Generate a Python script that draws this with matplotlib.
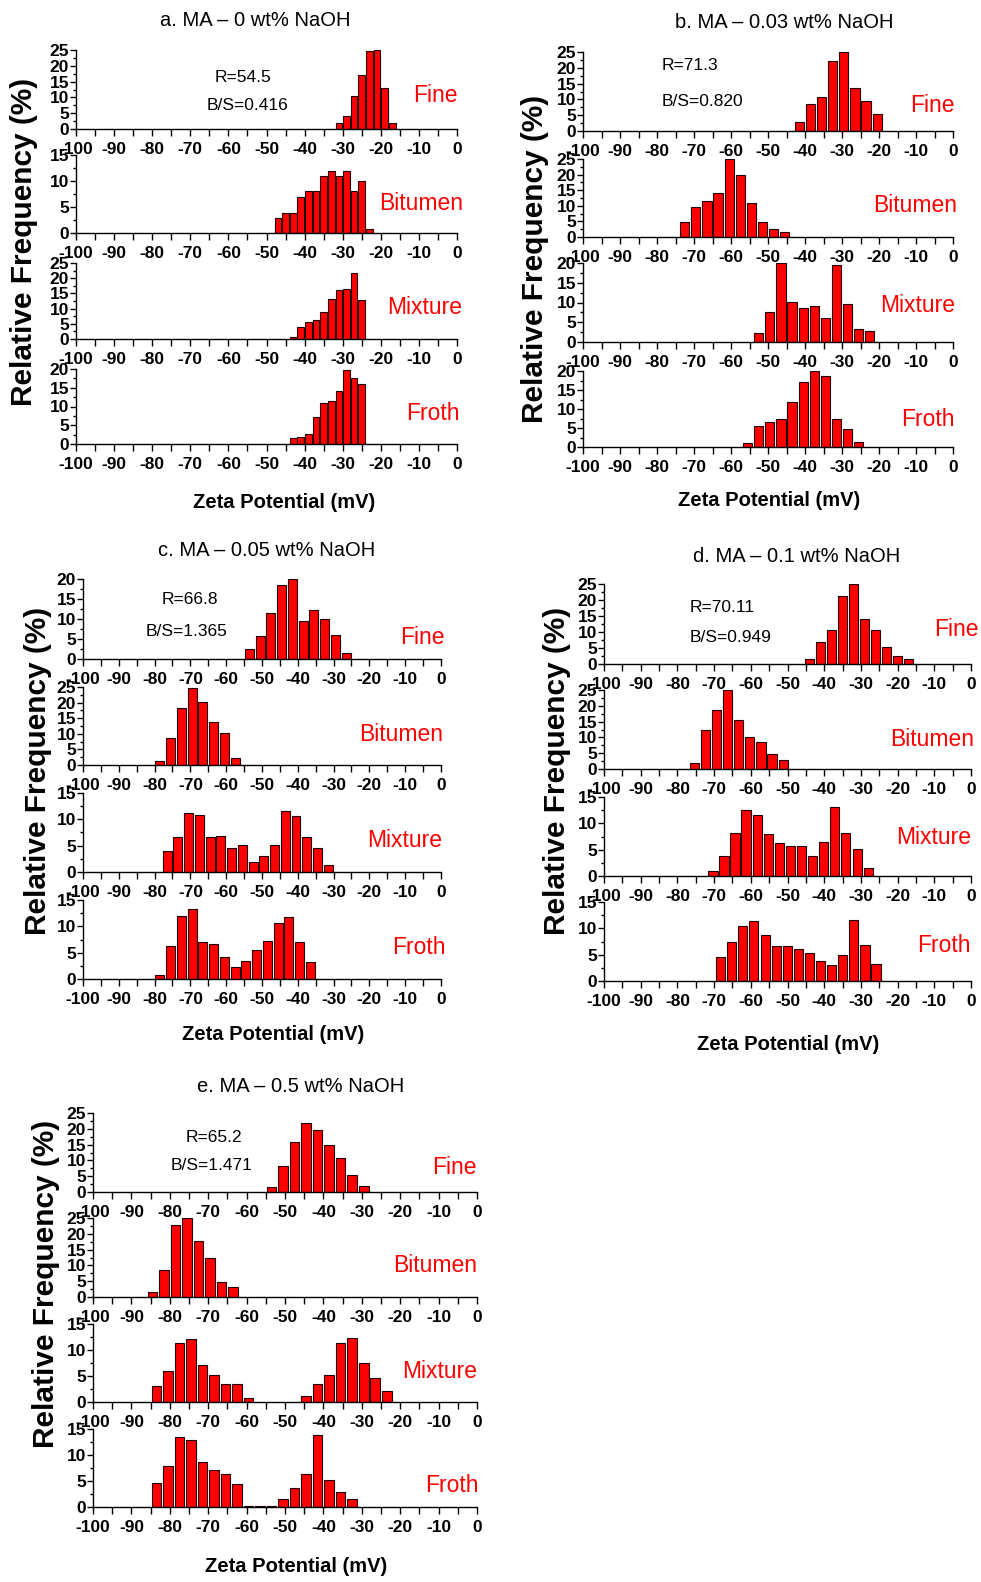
import matplotlib
matplotlib.use('Agg')
import matplotlib.pyplot as plt
from matplotlib.ticker import MultipleLocator

plt.rcParams['font.family'] = ['Liberation Sans', 'DejaVu Sans']
plt.rcParams['axes.unicode_minus'] = False

# zeta potential distributions (mV bin centre, % of particles)
a_fine_mv = [-31, -29, -27, -25, -23, -21, -19, -17]
a_fine_pct = [1.9, 4.1, 10.6, 17.0, 24.6, 25.0, 13.0, 2.0]
a_bit_mv = [-47, -45, -43, -41, -39, -37, -35, -33, -31, -29, -27, -25, -23]
a_bit_pct = [2.9, 3.9, 3.9, 7.0, 8.0, 8.0, 11.0, 12.0, 11.0, 12.0, 8.0, 10.0, 0.8]
a_mix_mv = [-43, -41, -39, -37, -35, -33, -31, -29, -27, -25]
a_mix_pct = [0.5, 3.9, 5.6, 6.2, 8.8, 13.3, 16.0, 16.6, 21.7, 12.8]
a_froth_mv = [-43, -41, -39, -37, -35, -33, -31, -29, -27, -25]
a_froth_pct = [1.5, 1.9, 2.6, 7.3, 10.9, 11.4, 14.1, 19.8, 17.7, 16.0]

b_fine_mv = [-41.5, -38.5, -35.5, -32.5, -29.5, -26.5, -23.5, -20.5]
b_fine_pct = [2.8, 8.7, 10.9, 22.0, 25.0, 13.7, 9.6, 5.5]
b_bit_mv = [-72.5, -69.5, -66.5, -63.5, -60.5, -57.5, -54.5, -51.5, -48.5, -45.5]
b_bit_pct = [4.9, 9.7, 11.4, 14.0, 25.0, 19.8, 10.9, 4.9, 2.6, 1.6]
b_mix_mv = [-52.5, -49.5, -46.5, -43.5, -40.5, -37.5, -34.5, -31.5, -28.5, -25.5, -22.5]
b_mix_pct = [2.2, 7.7, 20.0, 10.1, 8.5, 9.0, 6.2, 19.5, 9.5, 3.3, 2.9]
b_froth_mv = [-55.5, -52.5, -49.5, -46.5, -43.5, -40.5, -37.5, -34.5, -31.5, -28.5, -25.5]
b_froth_pct = [1.1, 5.4, 6.7, 7.5, 11.9, 17.0, 20.0, 18.6, 7.5, 4.8, 1.2]

c_fine_mv = [-53.5, -50.5, -47.5, -44.5, -41.5, -38.5, -35.5, -32.5, -29.5, -26.5]
c_fine_pct = [2.5, 5.8, 11.5, 18.4, 20.0, 9.5, 12.2, 10.0, 6.0, 1.4]
c_bit_mv = [-78.5, -75.5, -72.5, -69.5, -66.5, -63.5, -60.5, -57.5]
c_bit_pct = [1.2, 8.5, 18.3, 24.7, 20.1, 13.7, 10.4, 2.3]
c_mix_mv = [-76.5, -73.5, -70.5, -67.5, -64.5, -61.5, -58.5, -55.5,
            -52.5, -49.5, -46.5, -43.5, -40.5, -37.5, -34.5, -31.5]
c_mix_pct = [3.9, 6.6, 11.2, 10.9, 6.6, 6.8, 4.6, 5.1,
             1.9, 3.1, 5.1, 11.6, 10.6, 6.6, 4.6, 1.3]
c_froth_mv = [-78.5, -75.5, -72.5, -69.5, -66.5, -63.5, -60.5, -57.5,
              -54.5, -51.5, -48.5, -45.5, -42.5, -39.5, -36.5]
c_froth_pct = [0.8, 6.3, 12.0, 13.3, 7.0, 6.6, 4.1, 2.2,
               3.5, 5.6, 7.3, 10.6, 11.7, 7.0, 3.3]

d_fine_mv = [-44, -41, -38, -35, -32, -29, -26, -23, -20, -17]
d_fine_pct = [1.5, 6.8, 10.6, 21.1, 25.0, 14.2, 10.7, 5.2, 2.6, 1.6]
d_bit_mv = [-75.4, -72.3, -69.3, -66.3, -63.3, -60.3, -57.2, -54.2, -51.2]
d_bit_pct = [1.8, 12.2, 18.8, 25.0, 15.4, 10.1, 8.4, 4.9, 2.9]
d_mix_mv = [-70.3, -67.3, -64.3, -61.3, -58.2, -55.2, -52.2, -49.2,
            -46.2, -43.1, -40.1, -37.1, -34.1, -31.0, -28.0]
d_mix_pct = [0.9, 3.8, 8.1, 12.5, 11.6, 7.9, 6.3, 5.7,
             5.7, 3.8, 6.4, 13.1, 8.1, 5.2, 1.6]
d_froth_mv = [-68.2, -65.2, -62.2, -59.2, -56.1, -53.1, -50.1, -47.1,
              -44.0, -41.0, -38.0, -35.0, -32.0, -28.9, -25.9]
d_froth_pct = [4.6, 7.5, 10.4, 11.3, 8.7, 6.6, 6.6, 6.0,
               5.3, 3.8, 3.1, 4.9, 11.6, 6.8, 3.3]

e_fine_mv = [-53.5, -50.5, -47.5, -44.5, -41.5, -38.5, -35.5, -32.5, -29.5]
e_fine_pct = [1.6, 8.3, 15.8, 21.8, 19.5, 14.9, 10.8, 5.3, 2.0]
e_bit_mv = [-84.5, -81.5, -78.5, -75.5, -72.5, -69.5, -66.5, -63.5]
e_bit_pct = [1.6, 8.4, 22.9, 25.0, 17.7, 12.3, 4.6, 3.1]
e_mix_mv = [-83.5, -80.5, -77.5, -74.5, -71.5, -68.5, -65.5, -62.5, -59.5,
            -44.5, -41.5, -38.5, -35.5, -32.5, -29.5, -26.5, -23.5]
e_mix_pct = [3.0, 5.9, 11.4, 12.2, 7.1, 5.2, 3.4, 3.4, 0.8,
             1.1, 3.4, 5.2, 11.4, 12.4, 7.5, 4.6, 2.1]
e_froth_mv = [-83.5, -80.5, -77.5, -74.5, -71.5, -68.5, -65.5, -62.5, -59.5,
              -56.5, -53.5, -50.5, -47.5, -44.5, -41.5, -38.5, -35.5, -32.5]
e_froth_pct = [4.7, 7.8, 13.4, 12.8, 8.6, 7.1, 6.3, 4.4, 0.2,
               0.1, 0.2, 1.5, 3.6, 6.3, 13.9, 5.1, 2.9, 1.5]

samples = ['Fine', 'Bitumen', 'Mixture', 'Froth']
titles = ['a. MA – 0 wt% NaOH', 'b. MA – 0.03 wt% NaOH', 'c. MA – 0.05 wt% NaOH',
          'd. MA – 0.1 wt% NaOH', 'e. MA – 0.5 wt% NaOH']
r_values = ['54.5', '71.3', '66.8', '70.11', '65.2']
bs_values = ['0.416', '0.820', '1.365', '0.949', '1.471']
y_tops = [[25, 15, 25, 20], [25, 25, 20, 20], [20, 25, 15, 15],
          [25, 25, 15, 15], [25, 25, 15, 15]]

panels = [
    [(a_fine_mv, a_fine_pct), (a_bit_mv, a_bit_pct), (a_mix_mv, a_mix_pct), (a_froth_mv, a_froth_pct)],
    [(b_fine_mv, b_fine_pct), (b_bit_mv, b_bit_pct), (b_mix_mv, b_mix_pct), (b_froth_mv, b_froth_pct)],
    [(c_fine_mv, c_fine_pct), (c_bit_mv, c_bit_pct), (c_mix_mv, c_mix_pct), (c_froth_mv, c_froth_pct)],
    [(d_fine_mv, d_fine_pct), (d_bit_mv, d_bit_pct), (d_mix_mv, d_mix_pct), (d_froth_mv, d_froth_pct)],
    [(e_fine_mv, e_fine_pct), (e_bit_mv, e_bit_pct), (e_mix_mv, e_mix_pct), (e_froth_mv, e_froth_pct)],
]

# page layout in pixels: x of -100 and 0, then (top, bottom) of each of the 4 rows
W, H = 981, 1582
layout = [
    dict(x=(76, 457), rows=[(50, 129), (155, 233), (263, 339), (369, 444)], bar=1.75,
         title=(255, 21), ylab=(24, 242), xlab=(284, 503),
         tags=[(458, 95), (463, 204), (462, 308), (460, 413)],
         rtxt=(243, 77, 'center'), bstxt=(247, 105, 'center')),
    dict(x=(583, 953), rows=[(52, 131), (159, 237), (263, 342), (371, 447)], bar=2.5,
         title=(784, 23), ylab=(535, 259), xlab=(769, 501),
         tags=[(955, 105), (957, 205), (955, 305), (955, 420)],
         rtxt=(662, 66, 'left'), bstxt=(662, 102, 'left')),
    dict(x=(83, 441), rows=[(579, 659), (687, 765), (793, 872), (900, 979)], bar=2.5,
         title=(267, 551), ylab=(38, 771), xlab=(273, 1034),
         tags=[(445, 637), (443, 735), (442, 840), (446, 947)],
         rtxt=(190, 600, 'center'), bstxt=(187, 632, 'center')),
    dict(x=(604, 971), rows=[(584, 664), (690, 769), (797, 876), (902, 981)], bar=2.5,
         title=(797, 556), ylab=(557, 771), xlab=(788, 1045),
         tags=[(979, 630), (974, 740), (971, 838), (971, 945)],
         rtxt=(690, 607, 'left'), bstxt=(690, 637, 'left')),
    dict(x=(93, 477), rows=[(1113, 1192), (1218, 1297), (1324, 1402), (1429, 1507)], bar=2.5,
         title=(301, 1087), ylab=(46, 1284), xlab=(296, 1566),
         tags=[(477, 1168), (477, 1265), (477, 1372), (479, 1485)],
         rtxt=(214, 1137, 'center'), bstxt=(212, 1165, 'center')),
]


def fx(x):
    return x / W


def fy(y):
    return 1 - y / H


fig = plt.figure(figsize=(W / 100, H / 100), dpi=100)

for k, lay in enumerate(layout):
    x0, x1 = lay['x']
    for i, (top, bottom) in enumerate(lay['rows']):
        ax = fig.add_axes([fx(x0), fy(bottom), (x1 - x0) / W, (bottom - top) / H])
        mv, pct = panels[k][i]
        ax.bar(mv, pct, width=lay['bar'], color='#ff0000', edgecolor='#220000', linewidth=0.8)
        ax.set_xlim(-100, 0)
        ax.set_ylim(0, y_tops[k][i])
        for side in ('top', 'right'):
            ax.spines[side].set_visible(False)
        for side in ('left', 'bottom'):
            ax.spines[side].set_linewidth(1.0)
        ax.xaxis.set_major_locator(MultipleLocator(10))
        ax.xaxis.set_minor_locator(MultipleLocator(5))
        ax.yaxis.set_major_locator(MultipleLocator(5))
        ax.yaxis.set_minor_locator(MultipleLocator(2.5))
        ax.tick_params(which='both', direction='out', width=1.0, labelsize=12.5)
        ax.tick_params(axis='x', which='both', length=5, pad=4.5)
        ax.tick_params(axis='y', which='major', length=4, pad=1)
        ax.tick_params(axis='y', which='minor', length=2.5)
        for lbl in ax.get_xticklabels() + ax.get_yticklabels():
            lbl.set_fontweight('bold')
        tx, ty = lay['tags'][i]
        fig.text(fx(tx), fy(ty), samples[i], color='#ff0000', fontsize=16.5,
                 ha='right', va='center')

    rx, ry, rha = lay['rtxt']
    fig.text(fx(rx), fy(ry), 'R=' + r_values[k], fontsize=12.5, ha=rha, va='center')
    bx, by, bha = lay['bstxt']
    fig.text(fx(bx), fy(by), 'B/S=' + bs_values[k], fontsize=12.5, ha=bha, va='center')

    fig.text(fx(lay['title'][0]), fy(lay['title'][1]), titles[k], fontsize=14.5,
             ha='center', va='center')
    fig.text(fx(lay['xlab'][0]), fy(lay['xlab'][1]), 'Zeta Potential (mV)', fontsize=14.5,
             fontweight='bold', ha='center', va='center')
    fig.text(fx(lay['ylab'][0]), fy(lay['ylab'][1]), 'Relative Frequency (%)', fontsize=21.5,
             fontweight='bold', rotation=90, ha='center', va='center')

fig.savefig('out.png', dpi=100, facecolor='white')
